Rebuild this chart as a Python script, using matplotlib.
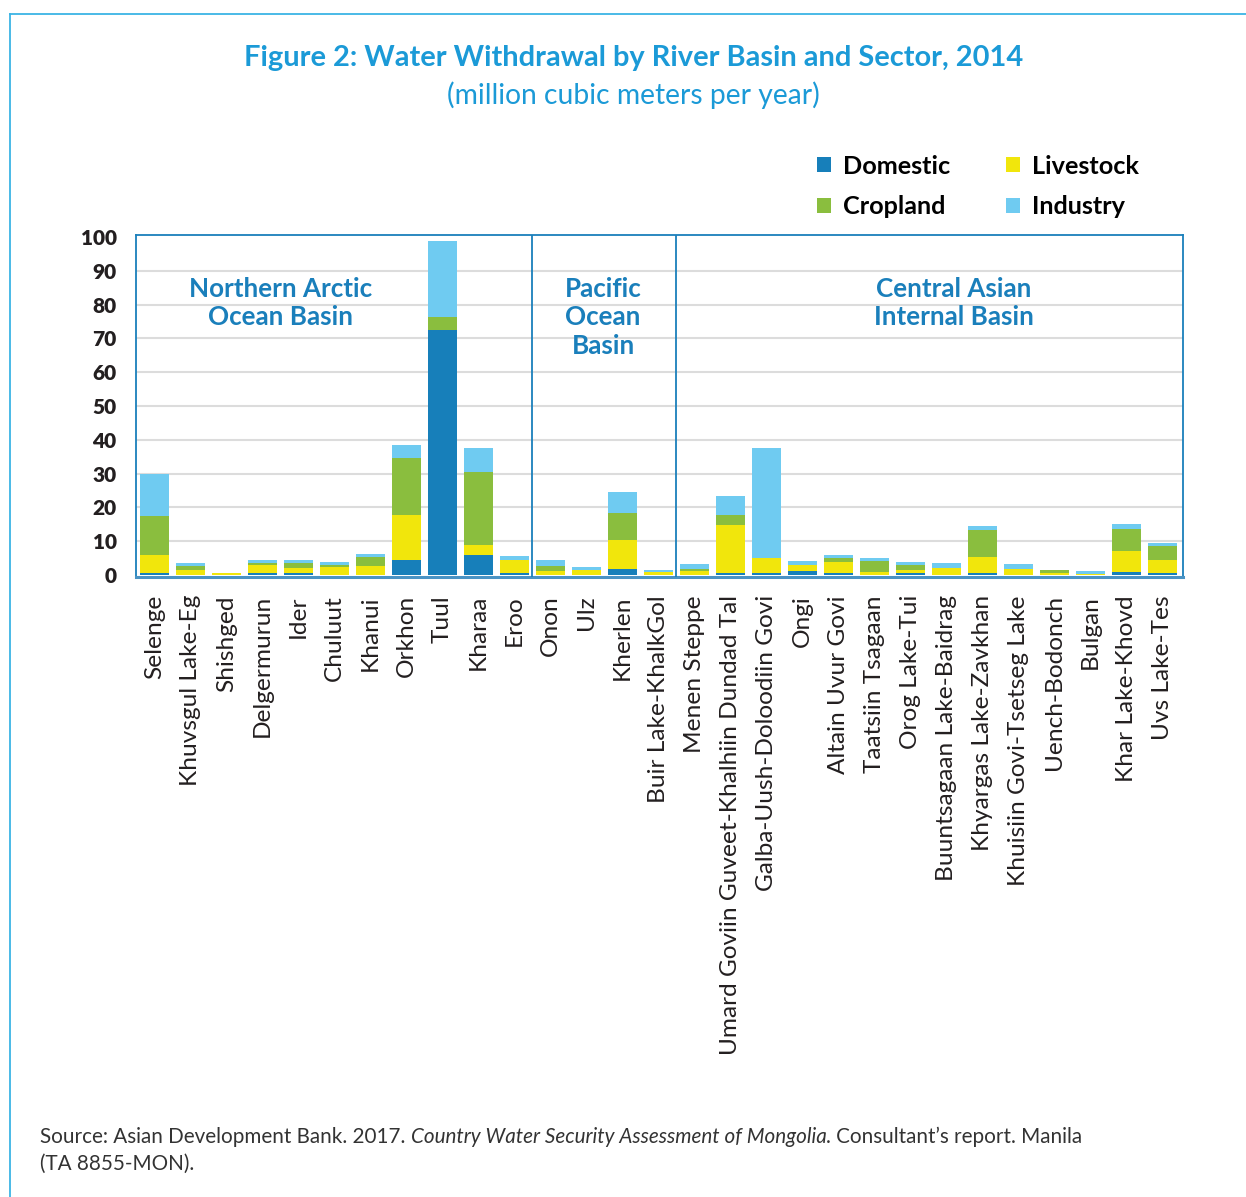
import matplotlib.pyplot as plt
from matplotlib.lines import Line2D

basins = [
    "Selenge", "Khuvsgul Lake-Eg", "Shishged", "Delgermurun", "Ider", "Chuluut",
    "Khanui", "Orkhon", "Tuul", "Kharaa", "Eroo",
    "Onon", "Ulz", "Kherlen", "Buir Lake-KhalkGol",
    "Menen Steppe", "Umard Goviin Guveet-Khalhiin Dundad Tal", "Galba-Uush-Doloodiin Govi",
    "Ongi", "Altain Uvur Govi", "Taatsiin Tsagaan", "Orog Lake-Tui",
    "Buuntsagaan Lake-Baidrag", "Khyargas Lake-Zavkhan", "Khuisiin Govi-Tsetseg Lake",
    "Uench-Bodonch", "Bulgan", "Khar Lake-Khovd", "Uvs Lake-Tes",
]
domestic = [0.5, 0.0, 0.0, 0.7, 0.7, 0.0, 0.0, 4.5, 72.5, 6.0, 0.7,
            0.0, 0.0, 1.9, 0.0,
            0.0, 0.7, 0.7, 1.3, 0.7, 0.0, 0.7, 0.0, 0.7, 0.0, 0.0, 0.0, 1.0, 0.7]
livestock = [5.5, 1.6, 0.7, 2.3, 1.5, 2.5, 2.7, 13.2, 0.0, 2.9, 3.8,
             1.3, 1.6, 8.5, 1.0,
             1.3, 14.1, 4.4, 1.7, 3.2, 1.0, 0.9, 2.2, 4.7, 1.9, 0.7, 0.4, 6.2, 3.6]
cropland = [11.5, 1.1, 0.0, 0.6, 1.4, 0.5, 2.7, 16.8, 3.8, 21.5, 0.0,
            1.4, 0.0, 7.9, 0.0,
            0.6, 2.9, 0.0, 0.0, 1.2, 3.2, 1.4, 0.0, 7.8, 0.0, 0.9, 0.0, 6.3, 4.4]
industry = [12.5, 0.9, 0.0, 0.9, 0.9, 0.9, 0.9, 4.1, 22.5, 7.3, 1.2,
            1.8, 0.9, 6.2, 0.6,
            1.4, 5.6, 32.4, 1.2, 0.9, 0.9, 0.9, 1.2, 1.2, 1.2, 0.0, 0.9, 1.7, 0.9]

regions = ["Northern Arctic\nOcean Basin", "Pacific\nOcean\nBasin", "Central Asian\nInternal Basin"]
region_bounds = [10.5, 14.5]

colors = {
    "Domestic": "#177fba",
    "Livestock": "#f1e60c",
    "Cropland": "#8abe3e",
    "Industry": "#6fcbf1",
}
dark_blue = "#1a7fbb"
title_blue = "#1b9ad7"

plt.rcParams["font.family"] = ["Lato", "DejaVu Sans"]

fig = plt.figure(figsize=(12.46, 11.97), dpi=100)
ax = fig.add_axes([136 / 1246, 1 - 577 / 1197, (1183 - 136) / 1246, (577 - 235) / 1197])

x = list(range(len(basins)))
series = [("Domestic", domestic), ("Livestock", livestock), ("Cropland", cropland), ("Industry", industry)]
bottom = [0.0] * len(basins)
handles = {}
for name, vals in series:
    bars = ax.bar(x, vals, width=0.806, bottom=bottom, color=colors[name], label=name, zorder=2)
    handles[name] = bars
    bottom = [b + v for b, v in zip(bottom, vals)]

ax.set_xlim(-0.514, 28.57)
ax.set_ylim(-0.6, 100.6)
ax.set_yticks(range(0, 101, 10))
ax.set_yticklabels([str(v) for v in range(0, 101, 10)], fontsize=15, fontweight="heavy", color="#231f20")
ax.set_xticks(x)
ax.set_xticklabels(basins, rotation=90, fontsize=17.6, color="#231f20", va="top", ha="center")
ax.tick_params(axis="both", length=0)
ax.tick_params(axis="y", pad=14)
ax.tick_params(axis="x", pad=13)

for v in range(10, 100, 10):
    ax.axhline(v, color="#dcdcdc", lw=1.5, zorder=1)

for s in ["top", "left", "right"]:
    ax.spines[s].set_color(dark_blue)
    ax.spines[s].set_linewidth(1.3)
ax.spines["bottom"].set_color("#4a93c4")
ax.spines["bottom"].set_linewidth(2.2)

for xb in region_bounds:
    ax.axvline(xb, color=dark_blue, lw=1.3, zorder=3)

# basin names sit in the upper part of each section
region_x = [3.5, 12.46, 22.2]
for label, rx in zip(regions, region_x):
    ax.text(rx, 88.3, label, ha="center", va="top", fontsize=18.7, fontweight="bold",
            color=dark_blue, linespacing=1.23, zorder=4)

order = ["Domestic", "Cropland", "Livestock", "Industry"]
fig.legend([handles[n] for n in order], order, loc="upper left",
           bbox_to_anchor=(794 / 1246, 1 - 132 / 1197), ncol=2, frameon=False,
           prop={"weight": "bold", "size": 18.2},
           handlelength=0.55, handleheight=0.55, handletextpad=0.48,
           columnspacing=2.2, labelspacing=0.7)

fig.text(0.5084, 1 - 58 / 1197, "Figure 2: Water Withdrawal by River Basin and Sector, 2014",
         ha="center", va="center", fontsize=20.9, fontweight="bold", color=title_blue)
fig.text(0.5084, 1 - 95 / 1197, "(million cubic meters per year)",
         ha="center", va="center", fontsize=20.3, color=title_blue)

src_color = "#333333"
src_size = 14.9
t1 = fig.text(40 / 1246, 1 - 1143 / 1197, "Source: Asian Development Bank. 2017. ",
              ha="left", va="baseline", fontsize=src_size, color=src_color)
t2 = ax.annotate("Country Water Security Assessment of Mongolia", xy=(1, 0), xycoords=t1,
                 ha="left", va="bottom", fontsize=src_size, style="italic", color=src_color,
                 annotation_clip=False)
ax.annotate(". Consultant\u2019s report. Manila", xy=(1, 0), xycoords=t2,
            ha="left", va="bottom", fontsize=src_size, color=src_color, annotation_clip=False)
fig.text(40 / 1246, 1 - 1170 / 1197, "(TA 8855-MON).",
         ha="left", va="baseline", fontsize=src_size, color=src_color)

frame_color = "#3bb4e5"
fig.add_artist(Line2D([9.5 / 1246, 9.5 / 1246], [0, 1 - 14 / 1197], color=frame_color, lw=1.3))
fig.add_artist(Line2D([9.5 / 1246, 1], [1 - 14 / 1197, 1 - 14 / 1197], color=frame_color, lw=1.3))

fig.savefig("out.png", dpi=100, facecolor="white")
